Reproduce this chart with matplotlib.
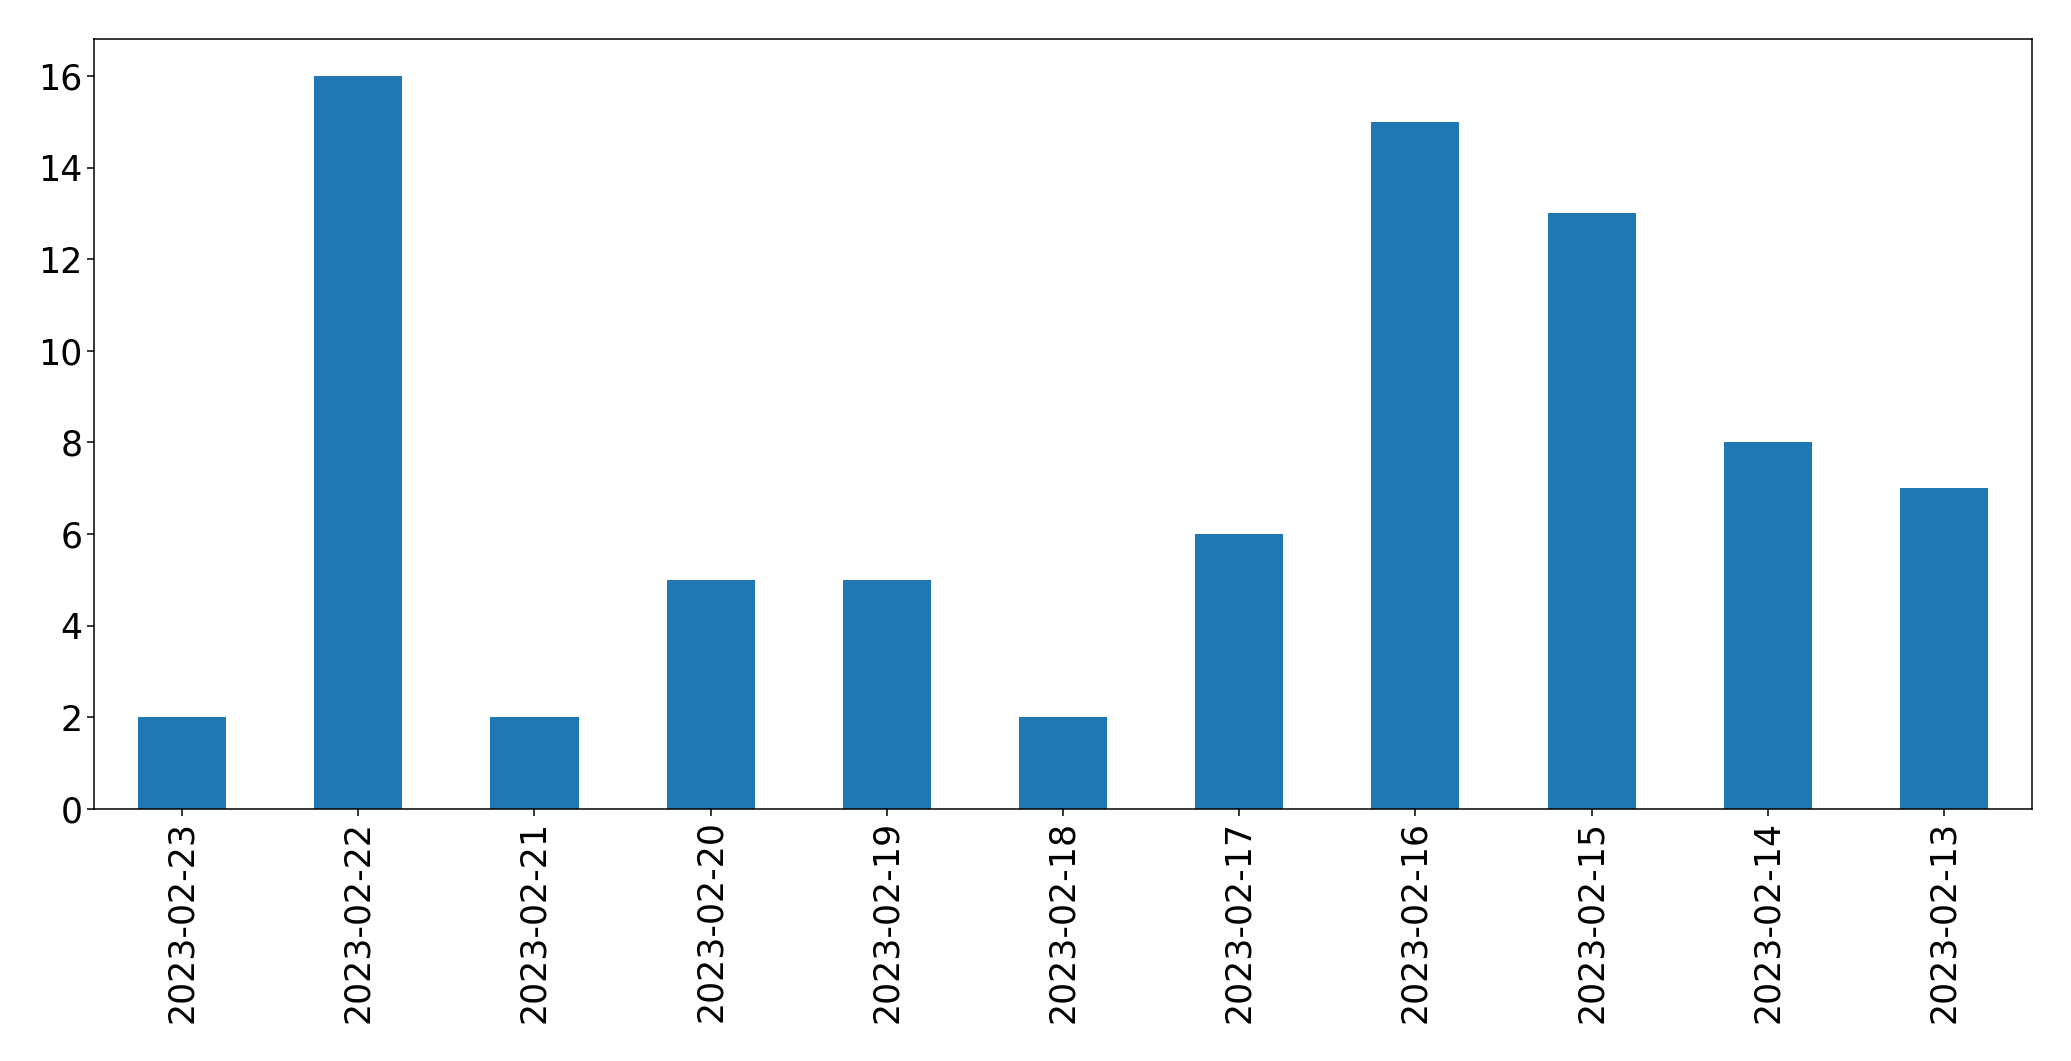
import matplotlib
matplotlib.use("Agg")
import matplotlib.pyplot as plt

# daily counts, newest first (as in the original index order)
dates = ["2023-02-23", "2023-02-22", "2023-02-21", "2023-02-20", "2023-02-19",
         "2023-02-18", "2023-02-17", "2023-02-16", "2023-02-15", "2023-02-14",
         "2023-02-13"]
counts = [2, 16, 2, 5, 5, 2, 6, 15, 13, 8, 7]

fig = plt.figure(figsize=(20.71, 10.61), dpi=100)
ax = fig.add_axes([0.0454, 0.2375, 0.9358, 0.7255])

x = range(len(dates))
ax.bar(x, counts, width=0.5, color="#1f77b4")

# style plot
ax.set_xlim(-0.5, len(dates) - 0.5)
ax.set_ylim(0, max(counts) * 1.05)
ax.set_xticks(list(x))
ax.set_xticklabels(dates, rotation=90)
ax.set_yticks(range(0, 17, 2))
ax.tick_params(labelsize=25, length=4.8, width=1.1)
for s in ax.spines.values():
    s.set_linewidth(1.1)

fig.savefig("out.png", dpi=100)
